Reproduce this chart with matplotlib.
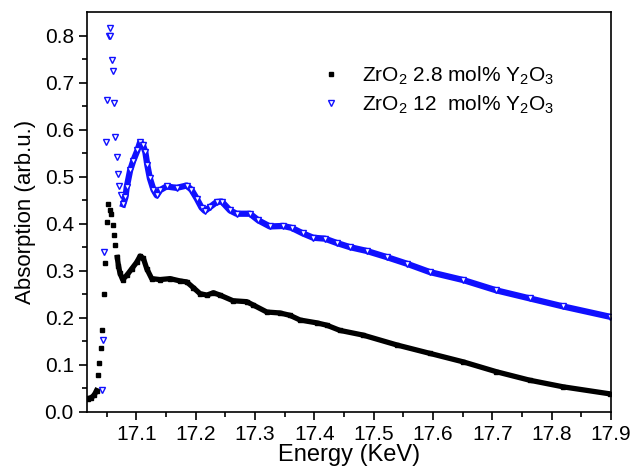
import numpy as np
import matplotlib
matplotlib.use("Agg")
import matplotlib.pyplot as plt

##### DATA #####
black_e = [17.018, 17.024, 17.029, 17.033, 17.036, 17.038, 17.0413, 17.043, 17.0453, 17.047,
           17.0513, 17.053, 17.0559, 17.057, 17.0615, 17.0626, 17.0643, 17.068, 17.070, 17.0727,
           17.077, 17.084, 17.0924, 17.1008, 17.1064, 17.112, 17.1177, 17.126, 17.140, 17.157,
           17.174, 17.185, 17.196, 17.2075, 17.219, 17.230, 17.241, 17.263, 17.286, 17.297,
           17.320, 17.342, 17.359, 17.376, 17.404, 17.421, 17.443, 17.482, 17.539, 17.595,
           17.651, 17.707, 17.763, 17.819, 17.898]
black_v = [0.028, 0.030, 0.035, 0.045, 0.078, 0.104, 0.135, 0.173, 0.250, 0.317,
           0.403, 0.442, 0.430, 0.421, 0.398, 0.375, 0.354, 0.328, 0.310, 0.294,
           0.281, 0.290, 0.304, 0.318, 0.331, 0.326, 0.304, 0.283, 0.281, 0.283,
           0.278, 0.276, 0.264, 0.251, 0.248, 0.253, 0.248, 0.236, 0.234, 0.227,
           0.212, 0.210, 0.205, 0.195, 0.189, 0.184, 0.173, 0.163, 0.142, 0.124,
           0.106, 0.085, 0.067, 0.053, 0.038]

blue_e = [17.042, 17.0436, 17.046, 17.049, 17.0513, 17.0537, 17.055, 17.0565, 17.0588, 17.0615,
          17.0626, 17.065, 17.067, 17.0694, 17.0716, 17.0739, 17.078, 17.0817, 17.084, 17.0896,
          17.095, 17.102, 17.1064, 17.111, 17.1153, 17.1187, 17.123, 17.129, 17.1345, 17.140,
          17.151, 17.168, 17.185, 17.193, 17.202, 17.210, 17.2157, 17.224, 17.2355, 17.244,
          17.258, 17.269, 17.2916, 17.3056, 17.325, 17.3477, 17.3618, 17.381, 17.398, 17.418,
          17.4375, 17.460, 17.488, 17.5217, 17.5554, 17.5946, 17.651, 17.707, 17.763, 17.819,
          17.898]
blue_v = [0.046, 0.152, 0.340, 0.573, 0.662, 0.798, 0.816, 0.798, 0.748, 0.724,
          0.657, 0.585, 0.541, 0.506, 0.480, 0.460, 0.441, 0.456, 0.478, 0.513,
          0.534, 0.556, 0.573, 0.568, 0.552, 0.524, 0.496, 0.472, 0.460, 0.471,
          0.479, 0.476, 0.481, 0.472, 0.453, 0.434, 0.427, 0.435, 0.446, 0.447,
          0.428, 0.421, 0.421, 0.407, 0.394, 0.395, 0.391, 0.379, 0.370, 0.368,
          0.359, 0.350, 0.342, 0.329, 0.315, 0.297, 0.280, 0.258, 0.241, 0.224,
          0.202]

label_black = r'ZrO$_\mathregular{2}$ 2.8 mol% Y$_\mathregular{2}$O$_\mathregular{3}$'
label_blue = r'ZrO$_\mathregular{2}$ 12  mol% Y$_\mathregular{2}$O$_\mathregular{3}$'

x_ticks = [17.1, 17.2, 17.3, 17.4, 17.5, 17.6, 17.7, 17.8, 17.9]
y_ticks = [0.0, 0.1, 0.2, 0.3, 0.4, 0.5, 0.6, 0.7, 0.8]

##### STYLE #####
plt.rcParams['font.family'] = ['Liberation Sans', 'DejaVu Sans']
plt.rcParams['mathtext.fontset'] = 'custom'
plt.rcParams['mathtext.rm'] = 'Liberation Sans'

fig = plt.figure(figsize=(6.37, 4.72), dpi=100)
ax = fig.add_axes([0.1366, 0.1277, 0.8226, 0.8469])

be = np.array(black_e)
bv = np.array(black_v)
ue = np.array(blue_e)
uv = np.array(blue_v)

# dense parts of the measured scans look like thick bands
dense_b = (be >= 17.065)
ax.plot(be[dense_b], bv[dense_b], color='black', lw=3.8)
ax.plot(be[be <= 17.034], bv[be <= 17.034], color='black', lw=3.8)
dense_u = (ue >= 17.078)
ax.plot(ue[dense_u], uv[dense_u], color='#1010ff', lw=4.5)

ax.plot(black_e, black_v, ls='none', marker='s', ms=3.2, color='black', label=label_black)
ax.plot(blue_e, blue_v, ls='none', marker='v', ms=5, mfc='white', mec='#1010ff',
        mew=1.0, label=label_blue)

ax.set_xlim(17.017, 17.9)
ax.set_ylim(0, 0.85)
ax.set_xticks(x_ticks)
ax.set_yticks(y_ticks)
ax.set_yticklabels(['%.1f' % v for v in y_ticks])
ax.set_xticks(np.arange(17.05, 17.9, 0.1), minor=True)
ax.set_yticks(np.arange(0.05, 0.85, 0.1), minor=True)
ax.tick_params(which='both', direction='out', top=False, right=False, labelsize=15, width=1.2)
ax.tick_params(which='major', length=6)
ax.tick_params(which='minor', length=3.5)
for s in ax.spines.values():
    s.set_linewidth(1.2)

ax.set_xlabel('Energy (KeV)', fontsize=17, labelpad=0)
ax.set_ylabel('Absorption (arb.u.)', fontsize=16, labelpad=6)

leg = ax.legend(loc='upper left', bbox_to_anchor=(0.429, 0.889), frameon=False, fontsize=15,
                handlelength=1.0, handletextpad=1.0, labelspacing=0.3, borderaxespad=0)

fig.savefig('out.png', dpi=100)
